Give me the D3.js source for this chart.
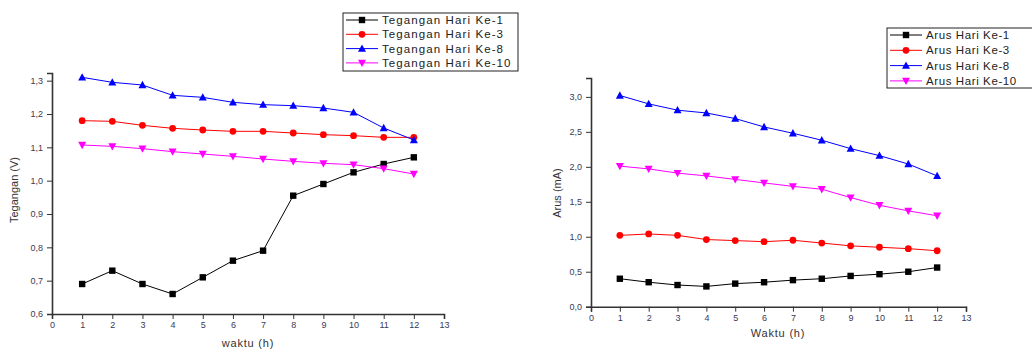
<!DOCTYPE html>
<html>
<head>
<meta charset="utf-8">
<script src="https://cdn.jsdelivr.net/npm/d3@7"></script>
<style>
  body { margin: 0; background: #fff; }
  svg { display: block; font-family: Arial, "Liberation Sans", sans-serif; }
</style>
</head>
<body>
<svg id="chart" width="1032" height="349"></svg>
<script>
// hours on the x axis
const hours = [1, 2, 3, 4, 5, 6, 7, 8, 9, 10, 11, 12];

// voltage (V), left chart
const teganganKe1 = [0.69, 0.73, 0.69, 0.66, 0.71, 0.76, 0.79, 0.955, 0.99, 1.025, 1.05, 1.07];
const teganganKe3 = [1.18, 1.178, 1.166, 1.157, 1.152, 1.148, 1.148, 1.143, 1.138, 1.135, 1.13, 1.13];
const teganganKe8 = [1.31, 1.295, 1.287, 1.256, 1.25, 1.235, 1.228, 1.225, 1.218, 1.205, 1.158, 1.122];
const teganganKe10 = [1.107, 1.103, 1.096, 1.087, 1.08, 1.073, 1.065, 1.058, 1.052, 1.048, 1.036, 1.02];

// current (mA), right chart
const arusKe1 = [0.40, 0.35, 0.31, 0.29, 0.33, 0.35, 0.38, 0.40, 0.44, 0.465, 0.50, 0.56];
const arusKe3 = [1.02, 1.04, 1.02, 0.96, 0.945, 0.93, 0.95, 0.91, 0.87, 0.85, 0.83, 0.80];
const arusKe8 = [3.02, 2.90, 2.81, 2.77, 2.69, 2.57, 2.48, 2.38, 2.26, 2.16, 2.04, 1.87];
const arusKe10 = [2.01, 1.97, 1.91, 1.87, 1.82, 1.77, 1.72, 1.68, 1.56, 1.45, 1.37, 1.30];

const xTicks = d3.range(0, 14);
const leftYTicks = [0.6, 0.7, 0.8, 0.9, 1.0, 1.1, 1.2, 1.3];
const rightYTicks = [0, 0.5, 1.0, 1.5, 2.0, 2.5, 3.0];

const leftLabels = ["Tegangan Hari Ke-1", "Tegangan Hari Ke-3", "Tegangan Hari Ke-8", "Tegangan Hari Ke-10"];
const rightLabels = ["Arus Hari Ke-1", "Arus Hari Ke-3", "Arus Hari Ke-8", "Arus Hari Ke-10"];

const colors = ["#000000", "#ff0000", "#0000ff", "#ff00ff"];
const symbols = ["square", "circle", "up", "down"];

const svg = d3.select("#chart");
const fmt = d => d3.format(".1f")(d).replace(".", ",");

function drawMarker(g, type, x, y, color) {
    if (type === "square") {
        g.append("rect").attr("x", x - 3.2).attr("y", y - 3.2)
            .attr("width", 6.4).attr("height", 6.4).attr("fill", color);
    } else if (type === "circle") {
        g.append("circle").attr("cx", x).attr("cy", y).attr("r", 3.4).attr("fill", color);
    } else if (type === "up") {
        g.append("path").attr("d", `M${x},${y - 4.2}L${x + 4},${y + 3.2}L${x - 4},${y + 3.2}Z`).attr("fill", color);
    } else {
        g.append("path").attr("d", `M${x},${y + 4.2}L${x + 4},${y - 3.2}L${x - 4},${y - 3.2}Z`).attr("fill", color);
    }
}

function drawChart(opt) {
    const x = d3.scaleLinear().domain([0, 13]).range(opt.xRange);
    const y = d3.scaleLinear().domain(opt.yDomain).range(opt.yRange);
    const g = svg.append("g");

    // x axis
    const xAxis = g.append("g").attr("transform", `translate(0,${opt.yRange[0]})`);
    xAxis.call(d3.axisBottom(x).tickValues(d3.range(0.5, 13, 1)).tickSize(3).tickFormat(""));
    xAxis.call(d3.axisBottom(x).tickValues(xTicks).tickSize(5).tickFormat(d3.format("d")).tickPadding(3));
    xAxis.selectAll(".domain").attr("stroke", "#333").attr("stroke-width", 1.6);
    xAxis.selectAll("line").attr("stroke", "#333");
    xAxis.selectAll("text").attr("font-size", 9).attr("fill", "#3a3a55");

    // y axis
    const yAxis = g.append("g").attr("transform", `translate(${opt.xRange[0]},0)`);
    yAxis.call(d3.axisLeft(y).tickValues(opt.yMinor).tickSize(3).tickFormat(""));
    yAxis.call(d3.axisLeft(y).tickValues(opt.yTicks).tickSize(5).tickFormat(fmt).tickPadding(4));
    yAxis.selectAll(".domain").attr("stroke", "#333").attr("stroke-width", 1.6);
    yAxis.selectAll("line").attr("stroke", "#333");
    yAxis.selectAll("text").attr("font-size", 9).attr("fill", "#3a3a55");

    // axis titles
    g.append("text").attr("x", opt.xTitle[0]).attr("y", opt.xTitle[1])
        .attr("text-anchor", "middle").attr("font-size", 11).attr("letter-spacing", 0.8)
        .attr("fill", "#333").text(opt.xLabel);
    g.append("text").attr("transform", `translate(${opt.yTitle[0]},${opt.yTitle[1]}) rotate(-90)`)
        .attr("text-anchor", "middle").attr("font-size", 11)
        .attr("fill", "#333").text(opt.yLabel);

    // series
    const line = d3.line().x((d, i) => x(hours[i])).y(d => y(d));
    opt.series.forEach((s, k) => {
        g.append("path").datum(s).attr("d", line)
            .attr("fill", "none").attr("stroke", colors[k]).attr("stroke-width", 1);
        const mg = g.append("g");
        s.forEach((v, i) => drawMarker(mg, symbols[k], x(hours[i]), y(v), colors[k]));
    });

    // legend
    const L = opt.legend;
    const lg = g.append("g");
    lg.append("rect").attr("x", L.x).attr("y", L.y).attr("width", L.w).attr("height", L.h)
        .attr("fill", "#fff").attr("stroke", "#222").attr("stroke-width", 1);
    opt.labels.forEach((t, k) => {
        const ly = L.y + 7 + k * L.step;
        lg.append("line").attr("x1", L.x + 3).attr("x2", L.x + 35).attr("y1", ly).attr("y2", ly)
            .attr("stroke", colors[k]).attr("stroke-width", 1);
        drawMarker(lg, symbols[k], L.x + 19, ly, colors[k]);
        lg.append("text").attr("x", L.x + 39).attr("y", ly + 4)
            .attr("font-size", 11.5).attr("letter-spacing", L.ls).attr("fill", "#222").text(t);
    });
}

drawChart({
    xRange: [52, 444],
    yDomain: [0.6, 1.323],
    yRange: [314, 73],
    yTicks: leftYTicks,
    yMinor: d3.range(0.65, 1.32, 0.1),
    series: [teganganKe1, teganganKe3, teganganKe8, teganganKe10],
    labels: leftLabels,
    xLabel: "waktu (h)",
    yLabel: "Tegangan (V)",
    xTitle: [248, 347],
    yTitle: [18, 190],
    legend: { x: 343, y: 13, w: 175, h: 58, step: 14.3, ls: 1.1 }
});

drawChart({
    xRange: [591, 966],
    yDomain: [0, 3.27],
    yRange: [306.7, 78],
    yTicks: rightYTicks,
    yMinor: d3.range(0.25, 3.26, 0.5),
    series: [arusKe1, arusKe3, arusKe8, arusKe10],
    labels: rightLabels,
    xLabel: "Waktu (h)",
    yLabel: "Arus (mA)",
    xTitle: [778, 337],
    yTitle: [561, 193],
    legend: { x: 887, y: 28, w: 148, h: 60, step: 15.3, ls: 0.6 }
});
</script>
</body>
</html>
